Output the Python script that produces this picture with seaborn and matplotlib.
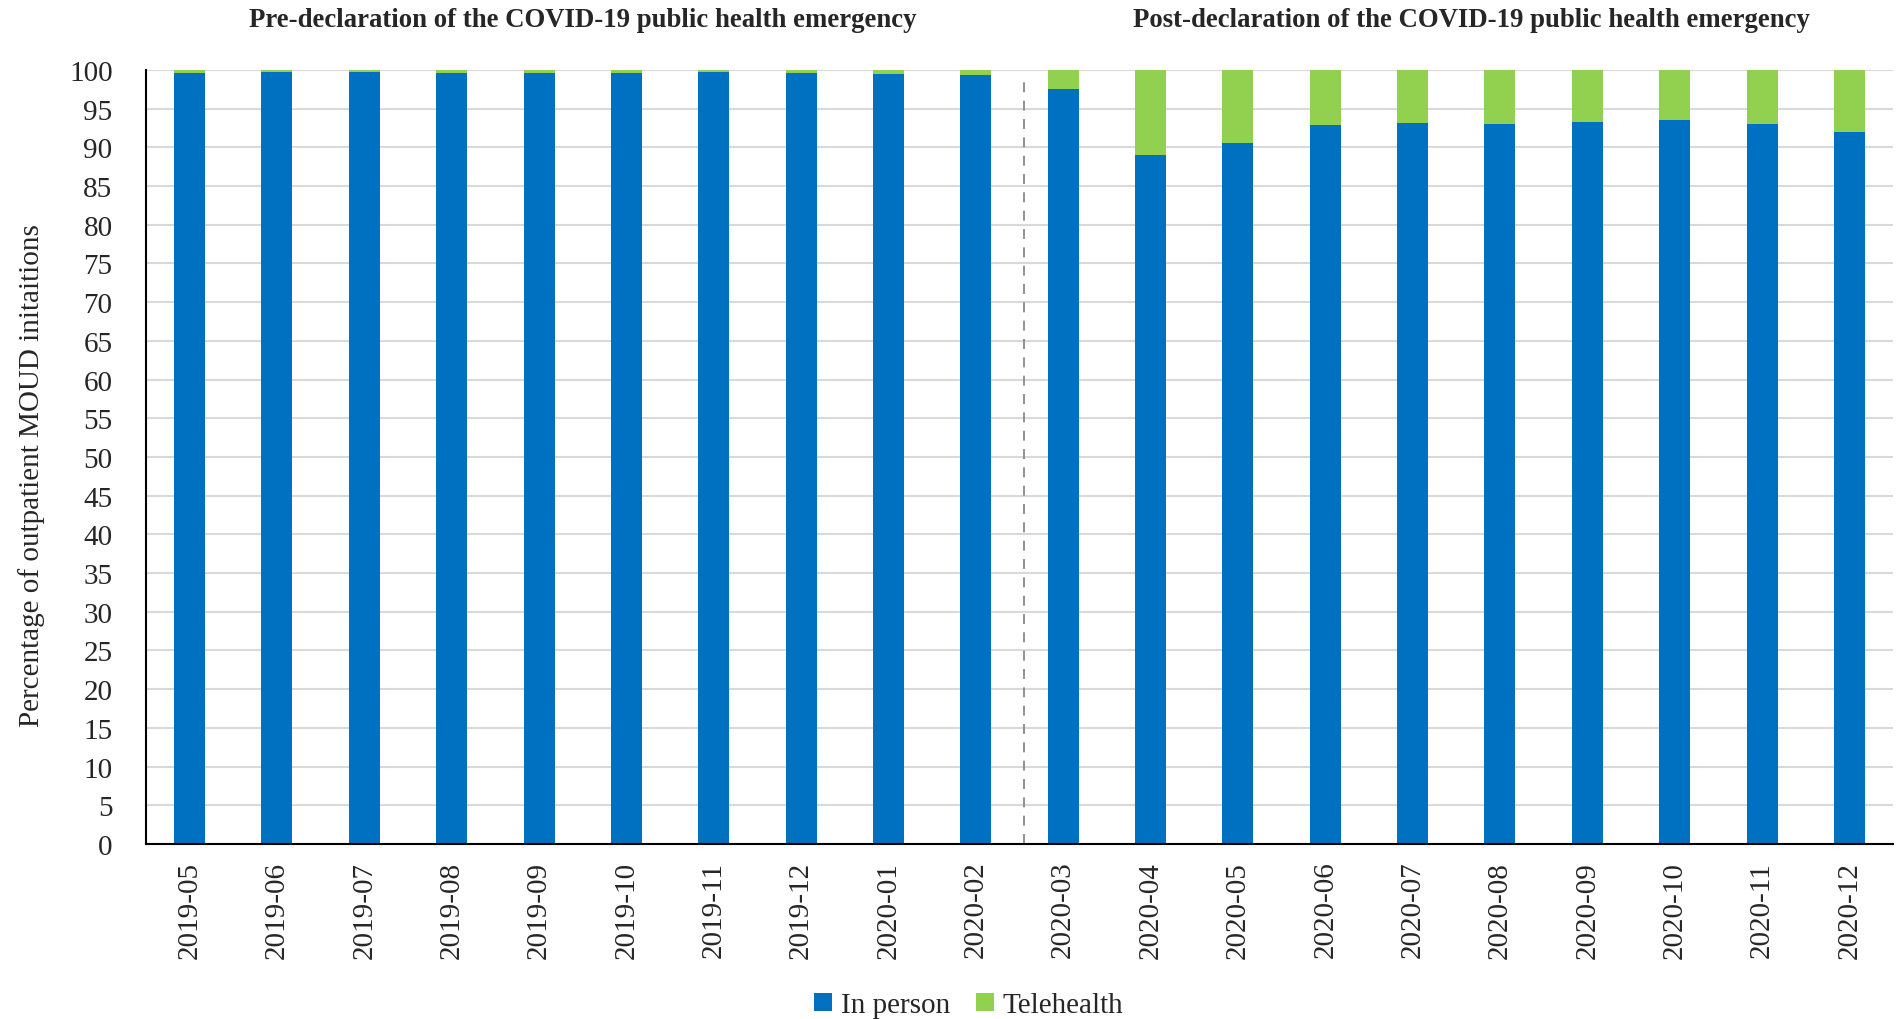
import matplotlib
matplotlib.use("Agg")
import matplotlib.pyplot as plt
import seaborn as sns
import pandas as pd
from matplotlib.lines import Line2D

months = ["2019-05", "2019-06", "2019-07", "2019-08", "2019-09", "2019-10",
          "2019-11", "2019-12", "2020-01", "2020-02", "2020-03", "2020-04",
          "2020-05", "2020-06", "2020-07", "2020-08", "2020-09", "2020-10",
          "2020-11", "2020-12"]
in_person = [99.6, 99.75, 99.7, 99.6, 99.6, 99.6, 99.75, 99.6, 99.5, 99.35,
             97.6, 89.0, 90.6, 92.9, 93.1, 93.0, 93.3, 93.6, 93.0, 92.0]
telehealth = [0.4, 0.25, 0.3, 0.4, 0.4, 0.4, 0.25, 0.4, 0.5, 0.65,
              2.4, 11.0, 9.4, 7.1, 6.9, 7.0, 6.7, 6.4, 7.0, 8.0]
series_names = ["In person", "Telehealth"]
period_titles = ["Pre-declaration of the COVID-19 public health emergency",
                 "Post-declaration of the COVID-19 public health emergency"]
y_label = "Percentage of outpatient MOUD initaitions"

BLUE = "#0070C0"
GREEN = "#92D050"

df = pd.DataFrame({"month": months, "in_person": in_person, "telehealth": telehealth})
df["total"] = df["in_person"] + df["telehealth"]

sns.set_theme(style="white")
plt.rcParams["font.family"] = ["Liberation Serif", "DejaVu Serif"]

fig = plt.figure(figsize=(18.98, 10.20), dpi=100)
ax = fig.add_axes([0.0769, 0.1716, 0.9205, 0.7588])

# stacked bars: full height in green, in-person share drawn over it in blue
sns.barplot(data=df, x="month", y="total", color=GREEN, saturation=1,
            width=0.355, ax=ax, linewidth=0)
sns.barplot(data=df, x="month", y="in_person", color=BLUE, saturation=1,
            width=0.355, ax=ax, linewidth=0)

ax.set_xlim(-0.5, len(months) - 0.5)
ax.set_ylim(0, 100)
ax.set_yticks(range(0, 101, 5))
ax.yaxis.grid(True, color="#d9d9d9", linewidth=1.5)
ax.set_axisbelow(True)
ax.xaxis.grid(False)

for side in ["top", "right"]:
    ax.spines[side].set_visible(False)
for side in ["left", "bottom"]:
    ax.spines[side].set_color("black")
    ax.spines[side].set_linewidth(1.5)

ax.tick_params(axis="y", labelsize=21, length=0, pad=24)
ax.tick_params(axis="x", labelsize=21, length=0, pad=12, labelrotation=90)
ax.set_xlabel("")
ax.set_ylabel(y_label, fontsize=21)
ax.yaxis.set_label_coords(-0.058, 0.477)

# boundary between the two periods
ax.plot([9.55, 9.55], [0, 98.6], linestyle=(0, (6, 5)), color="#7f7f7f", linewidth=1.2)

fig.text(0.307, 0.980, period_titles[0], ha="center", va="center",
         fontsize=19.3, fontweight="bold")
fig.text(0.775, 0.980, period_titles[1], ha="center", va="center",
         fontsize=19.3, fontweight="bold")

handles = [Line2D([], [], marker="s", linestyle="", markersize=13,
                  markerfacecolor=c, markeredgewidth=0) for c in (BLUE, GREEN)]
fig.legend(handles, series_names, loc="center", bbox_to_anchor=(0.509, 0.014),
           ncol=2, frameon=False, fontsize=21, handletextpad=0.1,
           columnspacing=0.7, handlelength=1.0)

fig.savefig("out.png", dpi=100, facecolor="white")
